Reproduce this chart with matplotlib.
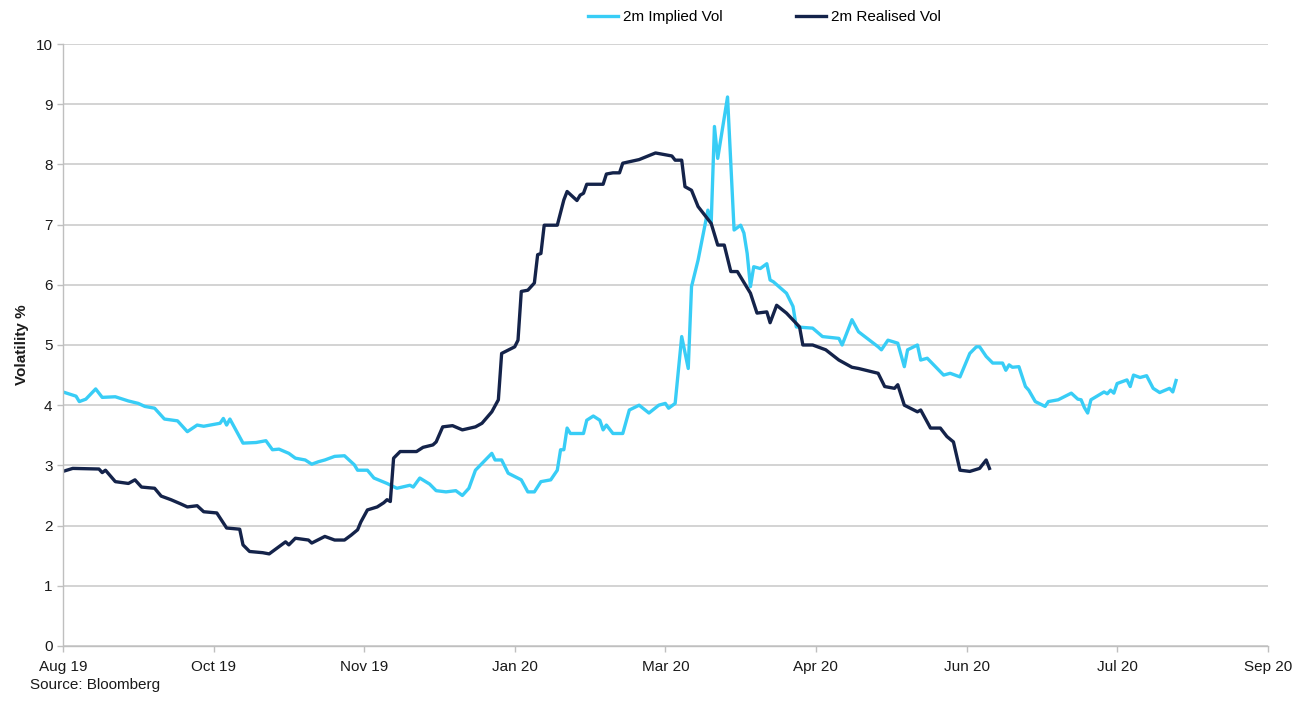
import matplotlib
matplotlib.use("Agg")
import matplotlib.pyplot as plt
import matplotlib.dates as mdates
import pandas as pd

plt.rcParams['font.family'] = ['Liberation Sans', 'DejaVu Sans']

# 2m implied vol
implied_dates = [
    "2019-08-30", "2019-09-03", "2019-09-04", "2019-09-06", "2019-09-09", "2019-09-11",
    "2019-09-15", "2019-09-19", "2019-09-22", "2019-09-24", "2019-09-27", "2019-09-30",
    "2019-10-04", "2019-10-07", "2019-10-10", "2019-10-12", "2019-10-17", "2019-10-18",
    "2019-10-19", "2019-10-20", "2019-10-24", "2019-10-28", "2019-10-31", "2019-11-02",
    "2019-11-04", "2019-11-07", "2019-11-09", "2019-11-12", "2019-11-14", "2019-11-16",
    "2019-11-18", "2019-11-21", "2019-11-24", "2019-11-27", "2019-11-28", "2019-12-01",
    "2019-12-03", "2019-12-07", "2019-12-10", "2019-12-14", "2019-12-15", "2019-12-17",
    "2019-12-20", "2019-12-22", "2019-12-25", "2019-12-28", "2019-12-30", "2020-01-01",
    "2020-01-03", "2020-01-08", "2020-01-09", "2020-01-11", "2020-01-13", "2020-01-17",
    "2020-01-19", "2020-01-21", "2020-01-23", "2020-01-26", "2020-01-28", "2020-01-29",
    "2020-01-30", "2020-01-31", "2020-02-01", "2020-02-05", "2020-02-06", "2020-02-08",
    "2020-02-10", "2020-02-11", "2020-02-12", "2020-02-14", "2020-02-17", "2020-02-19",
    "2020-02-22", "2020-02-25", "2020-02-28", "2020-03-01", "2020-03-02", "2020-03-04",
    "2020-03-06", "2020-03-08", "2020-03-09", "2020-03-11", "2020-03-14", "2020-03-15",
    "2020-03-16", "2020-03-17", "2020-03-20", "2020-03-21", "2020-03-22", "2020-03-24",
    "2020-03-25", "2020-03-26", "2020-03-27", "2020-03-28", "2020-03-30", "2020-04-01",
    "2020-04-02", "2020-04-03", "2020-04-07", "2020-04-09", "2020-04-10", "2020-04-15",
    "2020-04-18", "2020-04-23", "2020-04-24", "2020-04-27", "2020-04-29", "2020-05-05",
    "2020-05-06", "2020-05-08", "2020-05-11", "2020-05-13", "2020-05-14", "2020-05-17",
    "2020-05-18", "2020-05-20", "2020-05-25", "2020-05-27", "2020-05-30", "2020-06-02",
    "2020-06-04", "2020-06-05", "2020-06-07", "2020-06-09", "2020-06-12", "2020-06-13",
    "2020-06-14", "2020-06-15", "2020-06-17", "2020-06-19", "2020-06-20", "2020-06-22",
    "2020-06-25", "2020-06-26", "2020-06-29", "2020-07-03", "2020-07-05", "2020-07-06",
    "2020-07-07", "2020-07-08", "2020-07-09", "2020-07-13", "2020-07-14", "2020-07-15",
    "2020-07-16", "2020-07-17", "2020-07-20", "2020-07-21", "2020-07-22", "2020-07-24",
    "2020-07-26", "2020-07-28", "2020-07-30", "2020-08-02", "2020-08-03", "2020-08-04",
]
implied_vol = [
    4.22, 4.15, 4.06, 4.10, 4.27, 4.13,
    4.14, 4.07, 4.03, 3.98, 3.95, 3.77,
    3.74, 3.56, 3.67, 3.65, 3.70, 3.78,
    3.67, 3.77, 3.37, 3.38, 3.41, 3.26,
    3.27, 3.20, 3.12, 3.09, 3.02, 3.06,
    3.09, 3.15, 3.16, 3.01, 2.92, 2.92,
    2.79, 2.70, 2.62, 2.67, 2.64, 2.79,
    2.69, 2.58, 2.56, 2.58, 2.50, 2.62,
    2.92, 3.20, 3.09, 3.09, 2.87, 2.76,
    2.56, 2.56, 2.73, 2.76, 2.92, 3.26,
    3.26, 3.62, 3.53, 3.53, 3.75, 3.82,
    3.75, 3.59, 3.67, 3.53, 3.53, 3.92,
    4.00, 3.87, 4.00, 4.03, 3.95, 4.03,
    5.14, 4.61, 5.97, 6.41, 7.24, 7.02,
    8.63, 8.10, 9.12, 8.02, 6.91, 6.99,
    6.86, 6.52, 5.97, 6.30, 6.27, 6.35,
    6.08, 6.05, 5.86, 5.64, 5.30, 5.28,
    5.14, 5.11, 5.00, 5.42, 5.22, 4.97,
    4.92, 5.08, 5.03, 4.64, 4.92, 5.00,
    4.75, 4.78, 4.50, 4.53, 4.47, 4.86,
    4.97, 4.97, 4.81, 4.70, 4.70, 4.58,
    4.67, 4.63, 4.64, 4.31, 4.25, 4.06,
    3.98, 4.06, 4.09, 4.20, 4.10, 4.09,
    3.96, 3.87, 4.09, 4.22, 4.19, 4.25,
    4.20, 4.36, 4.42, 4.31, 4.50, 4.46,
    4.49, 4.28, 4.21, 4.28, 4.22, 4.41,
]

# 2m realised vol
realised_dates = [
    "2019-08-30", "2019-09-02", "2019-09-10", "2019-09-11", "2019-09-12", "2019-09-15",
    "2019-09-19", "2019-09-21", "2019-09-23", "2019-09-27", "2019-09-29", "2019-10-02",
    "2019-10-05", "2019-10-07", "2019-10-10", "2019-10-12", "2019-10-16", "2019-10-19",
    "2019-10-23", "2019-10-24", "2019-10-26", "2019-10-30", "2019-11-01", "2019-11-04",
    "2019-11-06", "2019-11-07", "2019-11-09", "2019-11-13", "2019-11-14", "2019-11-18",
    "2019-11-21", "2019-11-24", "2019-11-26", "2019-11-28", "2019-11-29", "2019-12-01",
    "2019-12-04", "2019-12-06", "2019-12-07", "2019-12-08", "2019-12-09", "2019-12-11",
    "2019-12-16", "2019-12-18", "2019-12-21", "2019-12-22", "2019-12-24", "2019-12-27",
    "2019-12-30", "2020-01-03", "2020-01-05", "2020-01-08", "2020-01-10", "2020-01-11",
    "2020-01-15", "2020-01-16", "2020-01-17", "2020-01-19", "2020-01-21", "2020-01-22",
    "2020-01-23", "2020-01-24", "2020-01-28", "2020-01-30", "2020-01-31", "2020-02-03",
    "2020-02-04", "2020-02-05", "2020-02-06", "2020-02-11", "2020-02-12", "2020-02-14",
    "2020-02-16", "2020-02-17", "2020-02-22", "2020-02-27", "2020-03-03", "2020-03-04",
    "2020-03-06", "2020-03-07", "2020-03-09", "2020-03-11", "2020-03-15", "2020-03-17",
    "2020-03-19", "2020-03-21", "2020-03-23", "2020-03-27", "2020-03-29", "2020-04-01",
    "2020-04-02", "2020-04-04", "2020-04-07", "2020-04-11", "2020-04-12", "2020-04-15",
    "2020-04-19", "2020-04-23", "2020-04-27", "2020-04-29", "2020-05-05", "2020-05-07",
    "2020-05-10", "2020-05-11", "2020-05-13", "2020-05-17", "2020-05-18", "2020-05-21",
    "2020-05-24", "2020-05-26", "2020-05-28", "2020-05-30", "2020-06-02", "2020-06-05",
    "2020-06-07", "2020-06-08",
]
realised_vol = [
    2.90, 2.95, 2.94, 2.88, 2.92, 2.73,
    2.70, 2.76, 2.64, 2.62, 2.49, 2.43,
    2.36, 2.31, 2.33, 2.23, 2.21, 1.96,
    1.94, 1.68, 1.57, 1.55, 1.53, 1.65,
    1.73, 1.68, 1.79, 1.76, 1.71, 1.82,
    1.76, 1.76, 1.84, 1.93, 2.06, 2.26,
    2.31, 2.38, 2.43, 2.40, 3.12, 3.23,
    3.23, 3.30, 3.34, 3.39, 3.64, 3.66,
    3.59, 3.64, 3.70, 3.89, 4.09, 4.86,
    4.97, 5.08, 5.89, 5.91, 6.03, 6.50,
    6.52, 6.99, 6.99, 7.41, 7.55, 7.40,
    7.49, 7.52, 7.67, 7.67, 7.84, 7.86,
    7.86, 8.02, 8.08, 8.19, 8.14, 8.07,
    8.07, 7.63, 7.57, 7.30, 7.02, 6.66,
    6.66, 6.22, 6.22, 5.86, 5.53, 5.55,
    5.37, 5.66, 5.53, 5.30, 5.00, 5.00,
    4.92, 4.75, 4.63, 4.61, 4.53, 4.31,
    4.28, 4.34, 4.00, 3.89, 3.92, 3.62,
    3.62, 3.48, 3.39, 2.92, 2.90, 2.95,
    3.09, 2.95,
]

implied_dates = pd.to_datetime(implied_dates)
realised_dates = pd.to_datetime(realised_dates)

fig = plt.figure(figsize=(13.11, 7.04), dpi=100)
ax = fig.add_axes([0.048, 0.0824, 0.919, 0.8551])

light = '#38cdf6'
navy = '#14234a'

ax.plot(implied_dates, implied_vol, color=light, lw=2.4, label='2m Implied Vol')
ax.plot(realised_dates, realised_vol, color=navy, lw=2.4, label='2m Realised Vol')

# Excel style date axis, one tick every 46 days
ticks = pd.date_range('2019-08-30', periods=9, freq='46D')
ax.set_xlim(ticks[0], ticks[-1])
ax.set_xticks(ticks)
ax.xaxis.set_major_formatter(mdates.DateFormatter('%b %y'))
ax.set_ylim(0, 10)
ax.set_yticks(range(0, 11))

ax.grid(axis='y', color='#d0d0d0', lw=1.3)
ax.set_axisbelow(True)
for s in ['top', 'right']:
    ax.spines[s].set_visible(False)
for s in ['left', 'bottom']:
    ax.spines[s].set_color('#bfbfbf')
    ax.spines[s].set_linewidth(1.0)
ax.tick_params(axis='both', colors='#bfbfbf', labelcolor='#1a1a1a', labelsize=11, length=4, width=1)
ax.tick_params(axis='x', pad=6)

ax.set_ylabel('Volatility %', fontsize=11, fontweight='bold', color='#1a1a1a', labelpad=5)

fig.legend(loc='upper center', bbox_to_anchor=(0.583, 1.005), ncol=2, frameon=False,
           fontsize=11, handlelength=2.0, columnspacing=4.8, handletextpad=0.3)

fig.text(0.023, 0.022, 'Source: Bloomberg', fontsize=11, color='#1a1a1a')

fig.savefig('out.png', dpi=100)
